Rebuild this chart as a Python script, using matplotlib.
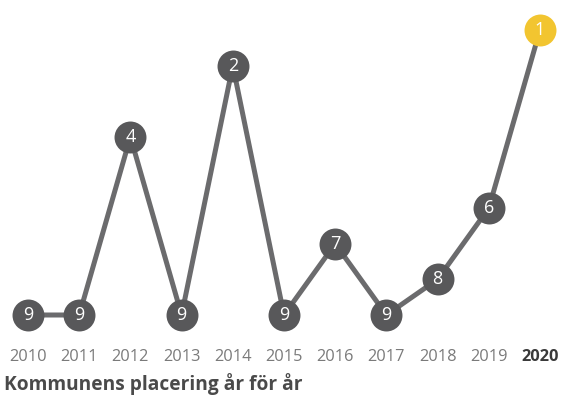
import matplotlib
matplotlib.use("Agg")
import matplotlib.pyplot as plt

plt.rcParams['font.family'] = ['Open Sans', 'DejaVu Sans']

# Data: municipality ranking per year (1 = best)
years = [2010, 2011, 2012, 2013, 2014, 2015, 2016, 2017, 2018, 2019, 2020]
ranks = [9, 9, 4, 9, 2, 9, 7, 9, 8, 6, 1]
title = 'Kommunens placering år för år'

C_LINE = '#6b6b6d'
C_DOT = '#58585a'
C_HI = '#f2c530'
C_TEXT = '#7a7a7a'

fig = plt.figure(figsize=(5.62, 4.01), dpi=100)
ax = fig.add_axes([0, 0, 1, 1])
ax.set_xlim(2009.453, 2020.43)
ax.set_ylim(11.414, 0.158)
ax.axis('off')

ax.plot(years, ranks, color=C_LINE, lw=3.6, zorder=1, solid_capstyle='round')
for i, (yr, rk) in enumerate(zip(years, ranks)):
    last = i == len(years) - 1
    ax.plot(yr, rk, 'o', ms=23, color=C_HI if last else C_DOT, mec='none', zorder=2)
    ax.text(yr, rk, str(rk), ha='center', va='center', color='white',
            fontsize=13, zorder=3)
    ax.text(yr, 10.18, str(yr), ha='center', va='center', fontsize=11.8,
            color='#3a3a3a' if last else C_TEXT,
            fontweight='bold' if last else 'normal')

fig.text(4 / 562, 1 - 384 / 401, title, ha='left', va='center',
         fontsize=13.8, fontweight='bold', color='#4a4a4a')

fig.savefig('out.png', dpi=100)
